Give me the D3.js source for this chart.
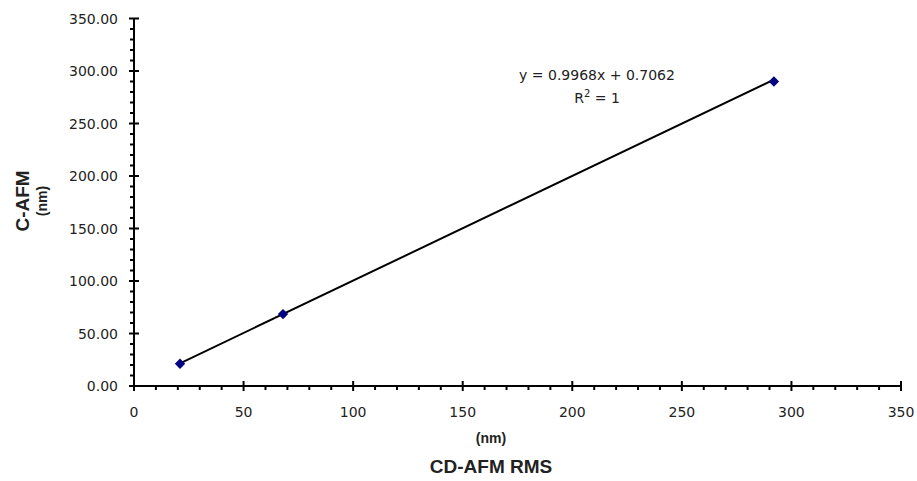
<!DOCTYPE html>
<html>
<head>
<meta charset="utf-8">
<script src="https://cdn.jsdelivr.net/npm/d3@7"></script>
<style>
  body { margin: 0; background: #fff; }
  svg { display: block; font-family: Arial, "Liberation Sans", sans-serif; }
  .tick { font-family: "DejaVu Sans", sans-serif; font-size: 14px; fill: #222; }
</style>
</head>
<body>
<div id="chart"></div>
<script>
const xValues = [21, 68, 292];
const yValues = [21.2, 68.5, 290];
const slope = 0.9968;
const intercept = 0.7062;
const xTicks = [0, 50, 100, 150, 200, 250, 300, 350];
const yTicks = [0, 50, 100, 150, 200, 250, 300, 350];

const width = 917, height = 481;
const svg = d3.select('#chart').append('svg')
    .attr('width', width)
    .attr('height', height);

const x = d3.scaleLinear().domain([0, 350]).range([134, 901]);
const y = d3.scaleLinear().domain([0, 350]).range([386, 18.5]);

const minor = d3.range(0, 351, 10).filter(v => v % 50 !== 0);

// x axis
const gx = svg.append('g');
gx.append('line')
    .attr('x1', x(0)).attr('x2', x(350))
    .attr('y1', y(0)).attr('y2', y(0))
    .attr('stroke', '#000').attr('stroke-width', 2);
gx.selectAll('.mj').data(xTicks).enter().append('line')
    .attr('x1', d => x(d)).attr('x2', d => x(d))
    .attr('y1', y(0) - 5).attr('y2', y(0) + 5)
    .attr('stroke', '#000').attr('stroke-width', 2);
gx.selectAll('.mn').data(minor).enter().append('line')
    .attr('x1', d => x(d)).attr('x2', d => x(d))
    .attr('y1', y(0)).attr('y2', y(0) + 4)
    .attr('stroke', '#000').attr('stroke-width', 2);
gx.selectAll('text').data(xTicks).enter().append('text')
    .attr('class', 'tick')
    .attr('x', d => x(d)).attr('y', 417)
    .attr('text-anchor', 'middle')
    .text(d => d);

// y axis
const gy = svg.append('g');
gy.append('line')
    .attr('x1', x(0)).attr('x2', x(0))
    .attr('y1', y(0)).attr('y2', y(350))
    .attr('stroke', '#000').attr('stroke-width', 2);
gy.selectAll('.mj').data(yTicks).enter().append('line')
    .attr('x1', x(0) - 5).attr('x2', x(0) + 5)
    .attr('y1', d => y(d)).attr('y2', d => y(d))
    .attr('stroke', '#000').attr('stroke-width', 2);
gy.selectAll('.mn').data(minor).enter().append('line')
    .attr('x1', x(0) - 4).attr('x2', x(0))
    .attr('y1', d => y(d)).attr('y2', d => y(d))
    .attr('stroke', '#000').attr('stroke-width', 2);
gy.selectAll('text').data(yTicks).enter().append('text')
    .attr('class', 'tick')
    .attr('x', 118).attr('y', d => y(d) + 5)
    .attr('text-anchor', 'end')
    .text(d => d.toFixed(2));

// trendline
const x0 = d3.min(xValues), x1 = d3.max(xValues);
svg.append('line')
    .attr('x1', x(x0)).attr('y1', y(slope * x0 + intercept))
    .attr('x2', x(x1)).attr('y2', y(slope * x1 + intercept))
    .attr('stroke', '#000').attr('stroke-width', 2);

// markers
const pts = xValues.map((v, i) => ({ x: v, y: yValues[i] }));
svg.selectAll('.pt').data(pts).enter().append('path')
    .attr('d', d3.symbol().type(d3.symbolDiamond2).size(68))
    .attr('transform', d => `translate(${x(d.x)},${y(d.y)})`)
    .attr('fill', '#000080');

// equation
svg.append('text').attr('class', 'tick')
    .attr('x', 597).attr('y', 80)
    .attr('text-anchor', 'middle')
    .text(`y = ${slope}x + ${intercept}`);
const r2 = svg.append('text').attr('class', 'tick')
    .attr('x', 597).attr('y', 103)
    .attr('text-anchor', 'middle');
r2.append('tspan').text('R');
r2.append('tspan').attr('dy', -6).style('font-size', '10px').text('2');
r2.append('tspan').attr('dy', 6).text(' = 1');

// axis titles
svg.append('text').attr('x', 491).attr('y', 443)
    .attr('text-anchor', 'middle')
    .style('font-size', '14px').style('font-weight', 'bold').style('fill', '#222')
    .text('(nm)');
svg.append('text').attr('x', 491).attr('y', 473)
    .attr('text-anchor', 'middle')
    .style('font-size', '19px').style('font-weight', 'bold').style('fill', '#222')
    .text('CD-AFM RMS');
svg.append('text')
    .attr('transform', 'translate(29,201) rotate(-90)')
    .attr('text-anchor', 'middle')
    .style('font-size', '19px').style('font-weight', 'bold').style('fill', '#222')
    .text('C-AFM');
svg.append('text')
    .attr('transform', 'translate(47,201) rotate(-90)')
    .attr('text-anchor', 'middle')
    .style('font-size', '14px').style('font-weight', 'bold').style('fill', '#222')
    .text('(nm)');
</script>
</body>
</html>
